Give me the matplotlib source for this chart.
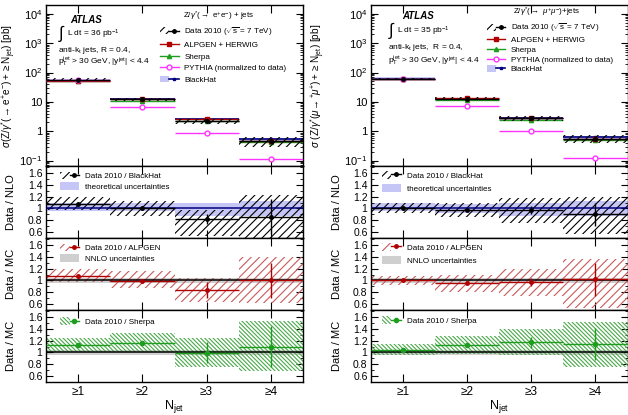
import matplotlib
matplotlib.use('Agg')
import matplotlib.pyplot as plt
from matplotlib.patches import Patch
from matplotlib.lines import Line2D
from matplotlib.legend_handler import HandlerTuple
from matplotlib.ticker import FixedLocator, FuncFormatter, LogLocator, MultipleLocator, NullFormatter

plt.rcParams['font.family'] = ['Liberation Sans', 'DejaVu Sans']
plt.rcParams['mathtext.fontset'] = 'custom'
plt.rcParams['mathtext.rm'] = 'Liberation Sans'
plt.rcParams['mathtext.it'] = 'Liberation Sans:italic'
plt.rcParams['mathtext.bf'] = 'Liberation Sans:bold'
plt.rcParams['hatch.linewidth'] = 0.8

# ---------------- data ----------------
njet = [1, 2, 3, 4]
njet_labels = ['≥1', '≥2', '≥3', '≥4']

# electron channel, cross sections [pb]
ee_data = [57, 12.3, 2.2, 0.46]
ee_data_relerr = [0.10, 0.12, 0.22, 0.35]
ee_alpgen = [53, 12.4, 2.6, 0.46]
ee_sherpa = [51, 10.7, 2.2, 0.42]
ee_pythia = [57, 6.7, 0.88, 0.115]
ee_blackhat = [53, 12.2, 2.68, 0.535]
# electron ratios
ee_nlo = [1.08, 1.01, 0.82, 0.86]
ee_nlo_err = [0.02, 0.03, 0.08, 0.30]
ee_nlo_lo = [0.98, 0.87, 0.53, 0.49]
ee_nlo_hi = [1.20, 1.12, 0.98, 1.23]
ee_theo_lo = [0.96, 0.95, 0.87, 0.88]
ee_theo_hi = [1.09, 1.09, 1.09, 1.13]
ee_alp = [1.07, 0.995, 0.84, 1.00]
ee_alp_err = [0.02, 0.03, 0.14, 0.30]
ee_alp_lo = [0.98, 0.87, 0.64, 0.62]
ee_alp_hi = [1.19, 1.16, 1.05, 1.40]
ee_she = [1.125, 1.16, 0.997, 1.10]
ee_she_err = [0.02, 0.03, 0.18, 0.35]
ee_she_lo = [1.01, 1.01, 0.76, 0.68]
ee_she_hi = [1.24, 1.33, 1.24, 1.54]

# muon channel, cross sections [pb]
mm_data = [62, 12.7, 2.75, 0.56]
mm_data_relerr = [0.07, 0.11, 0.18, 0.30]
mm_alpgen = [62, 13.2, 2.8, 0.55]
mm_sherpa = [59.6, 11.3, 2.35, 0.49]
mm_pythia = [62, 7.0, 0.98, 0.122]
mm_blackhat = [62, 12.95, 2.8, 0.62]
# muon ratios
mm_nlo = [1.00, 0.98, 0.98, 0.90]
mm_nlo_err = [0.02, 0.03, 0.07, 0.20]
mm_nlo_lo = [0.92, 0.86, 0.76, 0.56]
mm_nlo_hi = [1.09, 1.10, 1.17, 1.19]
mm_theo_lo = [0.95, 0.92, 0.88, 0.87]
mm_theo_hi = [1.09, 1.07, 1.10, 1.13]
mm_alp = [1.00, 0.96, 0.98, 1.02]
mm_alp_err = [0.02, 0.03, 0.07, 0.28]
mm_alp_lo = [0.92, 0.81, 0.73, 0.53]
mm_alp_hi = [1.08, 1.10, 1.20, 1.37]
mm_she = [1.04, 1.125, 1.17, 1.15]
mm_she_err = [0.02, 0.03, 0.10, 0.27]
mm_she_lo = [0.96, 0.98, 0.95, 0.76]
mm_she_hi = [1.14, 1.28, 1.40, 1.52]

nnlo_lo = [0.965, 0.965, 0.965, 0.965]
nnlo_hi = [1.035, 1.035, 1.035, 1.035]

# ---------------- style ----------------
RED = '#b00000'
RED_H = '#c85a5a'
GREEN = '#1e9e1e'
GREEN_H = '#4aa84a'
MAG = '#ff33ff'
NAVY = '#000080'
LAV = '#c6c6f6'
GRAY = '#cfcfcf'
H_BLACK = '////'
H_RED = '////'
H_GREEN = '\\' * 8

fig = plt.figure(figsize=(6.28, 4.15), dpi=100)
W, H = 628.0, 415.0


def axpos(x0, x1, y0, y1):
    return [x0 / W, 1 - y1 / H, (x1 - x0) / W, (y1 - y0) / H]


cols = [(46, 303), (371, 627.5)]
rows = [(5, 166), (166, 238), (238, 310), (310, 382)]


def style_axis(ax, bottom_labels=False):
    ax.set_xlim(0.5, 4.5)
    ax.xaxis.set_major_locator(FixedLocator(njet))
    ax.tick_params(which='both', direction='in', top=True, right=True, labelsize=7.5)
    ax.tick_params(which='major', length=5, width=0.8)
    ax.tick_params(which='minor', length=2.5, width=0.6)
    ax.tick_params(axis='x', which='major', length=6)
    ax.tick_params(axis='y', pad=2.5)
    if bottom_labels:
        ax.set_xticklabels(njet_labels, fontsize=8.5)
        ax.tick_params(axis='x', pad=3)
    else:
        ax.set_xticklabels([])
    for s in ax.spines.values():
        s.set_linewidth(1.0)


def top_panel(ax, data, relerr, alp, she, pyt, bh, theo_lo, theo_hi, title, atlas_xy, lumi, jets_txt,
              leg_anchor, leg_spacing, title_xy, txt_x, txt_ys):
    ax.set_yscale('log')
    bh_lo = [b * l for b, l in zip(bh, theo_lo)]
    bh_hi = [b * h for b, h in zip(bh, theo_hi)]
    ax.bar(njet, [h - l for h, l in zip(bh_hi, bh_lo)], bottom=bh_lo, width=1.0,
           color=LAV, linewidth=0, zorder=1)
    ax.errorbar(njet, bh, xerr=0.5, fmt='s', ms=2, color=NAVY, lw=1.2, zorder=2)
    ax.errorbar(njet, she, xerr=0.5, fmt='^', ms=3, color=GREEN, lw=1.0, zorder=3)
    ax.errorbar(njet, alp, xerr=0.5, fmt='s', ms=2.5, color=RED, lw=1.0, zorder=3)
    ax.errorbar(njet, pyt, xerr=0.5, fmt='o', ms=3.5, color=MAG, mfc='white', mec=MAG, lw=1.0, zorder=3)
    dlo = [d * (1 - r) for d, r in zip(data, relerr)]
    dhi = [d * (1 + r) for d, r in zip(data, relerr)]
    ax.bar(njet, [h - l for h, l in zip(dhi, dlo)], bottom=dlo, width=1.0, facecolor='none',
           edgecolor='black', hatch=H_BLACK, linewidth=0, zorder=4)
    ax.errorbar(njet, data, xerr=0.5, fmt='o', ms=2.5, color='black', lw=1.0, zorder=5)
    ax.set_ylim(0.065, 2e4)
    ax.yaxis.set_major_locator(LogLocator(base=10, numticks=10))
    ax.yaxis.set_minor_locator(LogLocator(base=10, subs=[2, 3, 4, 5, 6, 7, 8, 9], numticks=20))
    ax.yaxis.set_minor_formatter(NullFormatter())
    labs = {0.1: '$10^{-1}$', 1: '1', 10: '10', 100: '$10^{2}$', 1000: '$10^{3}$', 10000: '$10^{4}$'}

    def fmt(v, p):
        for k, s in labs.items():
            if abs(v - k) / k < 1e-6:
                return s
        return ''
    ax.yaxis.set_major_formatter(FuncFormatter(fmt))
    style_axis(ax)
    ax.tick_params(axis='y', labelsize=8)
    # texts
    ax.text(atlas_xy[0], atlas_xy[1], 'ATLAS', transform=ax.transAxes, fontsize=7,
            fontweight='bold', fontstyle='italic', va='center', ha='left')
    ax.text(txt_x, txt_ys[0], r'$\int$', transform=ax.transAxes, fontsize=12, va='center', ha='left')
    ax.text(txt_x + 0.035, txt_ys[0] - 0.005, lumi, transform=ax.transAxes, fontsize=6, va='center', ha='left')
    ax.text(txt_x, txt_ys[1], jets_txt, transform=ax.transAxes, fontsize=6, va='center', ha='left')
    ax.text(txt_x, txt_ys[2], r'p$_{\mathrm{T}}^{\mathrm{jet}}$ > 30 GeV, |y$^{\mathrm{jet}}$| < 4.4',
            transform=ax.transAxes, fontsize=6, va='center', ha='left')
    ax.text(title_xy[0], title_xy[1], title, transform=ax.transAxes, fontsize=5.8, va='center', ha='left')
    h_data = (Patch(facecolor='none', edgecolor='black', hatch=H_BLACK, linewidth=0),
              Line2D([], [], color='black', marker='o', ms=2.5, lw=1.0))
    h_alp = Line2D([], [], color=RED, marker='s', ms=2.5, lw=1.0)
    h_she = Line2D([], [], color=GREEN, marker='^', ms=3, lw=1.0)
    h_pyt = Line2D([], [], color=MAG, marker='o', ms=3.5, mfc='white', lw=1.0)
    h_bh = (Patch(facecolor=LAV, linewidth=0), Line2D([], [], color=NAVY, marker='s', ms=2, lw=1.2))
    ax.legend([h_data, h_alp, h_she, h_pyt, h_bh],
              ['Data 2010 ($\\sqrt{\\mathrm{s}}$ = 7 TeV)', 'ALPGEN + HERWIG', 'Sherpa',
               'PYTHIA (normalized to data)', 'BlackHat'],
              handler_map={tuple: HandlerTuple(ndivide=None, pad=0)},
              loc='upper left', bbox_to_anchor=leg_anchor, frameon=False, fontsize=5.8,
              handlelength=2.3, handletextpad=0.7, labelspacing=leg_spacing, borderpad=0,
              borderaxespad=0, handleheight=0.9)


def ratio_panel(ax, vals, err, lo, hi, color, hcolor, hatch, band_lo, band_hi, band_color,
                unity_color, labels, leg_anchor, leg_spacing, msize=2.5, bottom=False):
    ax.bar(njet, [h - l for h, l in zip(band_hi, band_lo)], bottom=band_lo, width=1.0,
           color=band_color, linewidth=0, zorder=1)
    ax.bar(njet, [h - l for h, l in zip(hi, lo)], bottom=lo, width=1.0, facecolor='none',
           edgecolor=hcolor, hatch=hatch, linewidth=0, zorder=2)
    ax.axhline(1.0, color=unity_color, lw=1.1, zorder=3)
    ax.errorbar(njet, vals, xerr=0.5, yerr=err, fmt='o', ms=msize, color=color, lw=1.0,
                capsize=0, zorder=4)
    ax.set_ylim(0.5, 1.72)
    ax.yaxis.set_major_locator(FixedLocator([0.6, 0.8, 1.0, 1.2, 1.4, 1.6]))
    ax.yaxis.set_minor_locator(MultipleLocator(0.1))
    ax.yaxis.set_major_formatter(FuncFormatter(lambda v, p: '%g' % round(v, 2)))
    style_axis(ax, bottom_labels=bottom)
    h1 = (Patch(facecolor='none', edgecolor=hcolor, hatch=hatch, linewidth=0),
          Line2D([], [], color=color, marker='o', ms=msize, lw=1.0))
    handles = [h1]
    if len(labels) > 1:
        handles.append(Patch(facecolor=band_color, linewidth=0))
    ax.legend(handles, labels, handler_map={tuple: HandlerTuple(ndivide=None, pad=0)},
              loc='upper left', bbox_to_anchor=leg_anchor, frameon=False, fontsize=5.8,
              handlelength=2.4, handletextpad=0.7, labelspacing=leg_spacing, borderpad=0,
              borderaxespad=0, handleheight=1.1)


channels = [
    dict(data=ee_data, relerr=ee_data_relerr, alp=ee_alpgen, she=ee_sherpa, pyt=ee_pythia, bh=ee_blackhat,
         nlo=(ee_nlo, ee_nlo_err, ee_nlo_lo, ee_nlo_hi), theo=(ee_theo_lo, ee_theo_hi),
         ralp=(ee_alp, ee_alp_err, ee_alp_lo, ee_alp_hi), rshe=(ee_she, ee_she_err, ee_she_lo, ee_she_hi),
         title=r'Z/$\gamma^{*}$($\rightarrow$ e$^{+}$e$^{-}$) + jets',
         lumi=r'L dt = 36 pb$^{-1}$', jets=r'anti-k$_{\mathrm{t}}$ jets, R = 0.4,',
         atlas=(0.095, 0.905), leg=(0.444, 0.875), legsp=0.42, title_xy=(0.533, 0.93),
         txt_x=0.045, txt_ys=(0.82, 0.72, 0.645),
         ylabel=r'$\sigma(\mathrm{Z}/\gamma^{*}(\rightarrow \mathrm{e}^{+}\mathrm{e}^{-})+\geq \mathrm{N}_{\mathrm{jet}})$ [pb]',
         ylx=-0.11, rylx=-0.118, rleg=(0.054, 0.92), rlegsp=0.25),
    dict(data=mm_data, relerr=mm_data_relerr, alp=mm_alpgen, she=mm_sherpa, pyt=mm_pythia, bh=mm_blackhat,
         nlo=(mm_nlo, mm_nlo_err, mm_nlo_lo, mm_nlo_hi), theo=(mm_theo_lo, mm_theo_hi),
         ralp=(mm_alp, mm_alp_err, mm_alp_lo, mm_alp_hi), rshe=(mm_she, mm_she_err, mm_she_lo, mm_she_hi),
         title=r'Z/$\gamma^{*}$($\rightarrow$ $\mu^{+}\mu^{-}$)+jets',
         lumi=r'L dt = 35 pb$^{-1}$', jets=r'anti-k$_{\mathrm{t}}$ jets,  R = 0.4,',
         atlas=(0.12, 0.93), leg=(0.451, 0.895), legsp=0.2, title_xy=(0.553, 0.955),
         txt_x=0.065, txt_ys=(0.84, 0.733, 0.652),
         ylabel=r'$\sigma\ (\mathrm{Z}/\gamma^{*}(\mu\!\rightarrow^{+}\!\mu^{+})+\geq \mathrm{N}_{\mathrm{jet}})$ [pb]',
         ylx=-0.17, rylx=-0.113, rleg=(0.042, 0.93), rlegsp=0.6),
]

for ci, ch in enumerate(channels):
    x0, x1 = cols[ci]
    ax0 = fig.add_axes(axpos(x0, x1, *rows[0]))
    ax1 = fig.add_axes(axpos(x0, x1, *rows[1]))
    ax2 = fig.add_axes(axpos(x0, x1, *rows[2]))
    ax3 = fig.add_axes(axpos(x0, x1, *rows[3]))
    top_panel(ax0, ch['data'], ch['relerr'], ch['alp'], ch['she'], ch['pyt'], ch['bh'],
              ch['theo'][0], ch['theo'][1], ch['title'], ch['atlas'], ch['lumi'], ch['jets'],
              ch['leg'], ch['legsp'], ch['title_xy'], ch['txt_x'], ch['txt_ys'])
    ax0.set_ylabel(ch['ylabel'], fontsize=7.2)
    ax0.yaxis.set_label_coords(ch['ylx'], 0.5)

    v, e, l, h = ch['nlo']
    ratio_panel(ax1, v, e, l, h, 'black', 'black', H_BLACK, ch['theo'][0], ch['theo'][1], LAV, NAVY,
                ['Data 2010 / BlackHat', 'theoretical uncertainties'], ch['rleg'], ch['rlegsp'], msize=2.5)
    v, e, l, h = ch['ralp']
    ratio_panel(ax2, v, e, l, h, RED, RED_H, H_RED, nnlo_lo, nnlo_hi, GRAY, 'black',
                ['Data 2010 / ALPGEN', 'NNLO uncertainties'], ch['rleg'], ch['rlegsp'], msize=2.5)
    v, e, l, h = ch['rshe']
    ratio_panel(ax3, v, e, l, h, GREEN, GREEN_H, H_GREEN, nnlo_lo, nnlo_hi, GRAY, 'black',
                ['Data 2010 / Sherpa'], (ch['rleg'][0], ch['rleg'][1] - 0.02), ch['rlegsp'], msize=3,
                bottom=True)
    ax1.set_ylabel('Data / NLO', fontsize=8)
    ax2.set_ylabel('Data / MC', fontsize=8)
    ax3.set_ylabel('Data / MC', fontsize=8)
    for a in (ax1, ax2, ax3):
        a.yaxis.set_label_coords(ch['rylx'], 0.5)
    ax3.set_xlabel(r'$\mathrm{N}_{\mathrm{jet}}$', fontsize=9, labelpad=0)

fig.savefig('out.png', dpi=100)
